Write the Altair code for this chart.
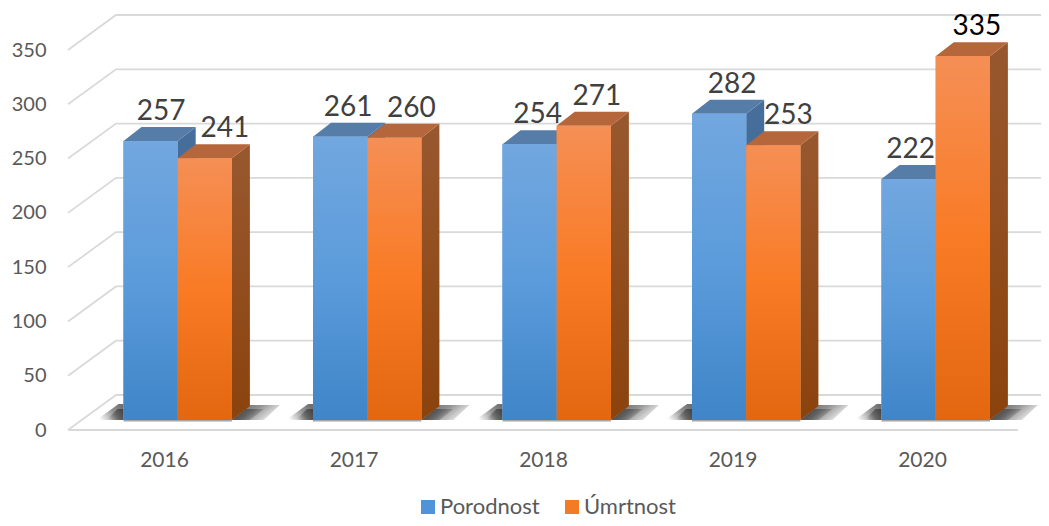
import altair as alt
import pandas as pd

YEARS = [2016, 2017, 2018, 2019, 2020]
POROD = [257, 261, 254, 282, 222]
UMRT = [241, 260, 271, 253, 335]
SERIES = ["Porodnost", "Úmrtnost"]
GRID_LEVELS = [0, 50, 100, 150, 200, 250, 300, 350]

# layout, in page pixels, converted to scale units below
PX_YEAR = 189.5
PX_UNIT = 1.0857
ORIGIN_X, ORIGIN_Y = 164.0, 430.0   # where the axis labels of 2016 and 0 sit
PLOT_L, PLOT_T, PAGE_R, PAGE_B = 52, 8, 1041, 518


def dx(px):
    return px / PX_YEAR


def dy(px):
    return px / PX_UNIT


X_SCALE = alt.Scale(domain=[2016 + (PLOT_L - ORIGIN_X) / PX_YEAR, 2016 + (PAGE_R - ORIGIN_X) / PX_YEAR],
                    nice=False, zero=False, padding=0)
Y_SCALE = alt.Scale(domain=[0, (ORIGIN_Y - PLOT_T) / PX_UNIT], nice=False, zero=False, padding=0)
X_AXIS = alt.Axis(title=None, values=YEARS, format="d", domain=False, ticks=False, grid=False, labelFontSize=21,
                  labelFont="Lato", labelColor="#595959", labelPadding=30, labelBaseline="middle", labelFlush=False)
Y_AXIS = alt.Axis(title=None, values=GRID_LEVELS, domain=False, ticks=False, grid=False, labelFontSize=20,
                  labelFont="Lato", labelColor="#595959", labelPadding=6)

FLOOR = dy(10)           # bars stand this far above the front floor edge
BAR_W = dx(54.2)
BAR_SHIFT = dx(-40.5)    # left edge of the blue bar relative to the year
DEPTH_X, DEPTH_Y = dx(18), dy(14)
WALL_X, WALL_Y = dx(48), dy(35)
LEFT_END = 2016 + (68 - ORIGIN_X) / PX_YEAR
RIGHT_FRONT = 2016 + (1018 - ORIGIN_X) / PX_YEAR
RIGHT_BACK = 2016 + (PAGE_R - ORIGIN_X) / PX_YEAR
LABEL_NUDGE = {0: [10.5, 8, 8, 13, 2], 1: [20, 17, 13, 15, 14]}
LABEL_RISE = dy(29)


def trapezoid(group, xb0, xb1, xt0, xt1, yb, yt):
    """Slices a floor-style four-corner face into area rows."""
    rows = []
    for x in sorted({xb0, xb1, xt0, xt1}):
        if x < xt0:
            up = yb + (yt - yb) * (x - xb0) / (xt0 - xb0)
        elif x > xt1:
            up = yt + (yb - yt) * (x - xt1) / (xb1 - xt1)
        else:
            up = yt
        if x > xb1:
            lo = yb + (yt - yb) * (x - xb1) / (xt1 - xb1)
        elif x < xb0:
            lo = yt
        else:
            lo = yb
        rows.append({"g": group, "x": x, "lo": lo, "up": up})
    return rows


def grad(*colors):
    n = len(colors) - 1
    return alt.LinearGradient(gradient="linear", x1=0, x2=0, y1=0, y2=1,
                              stops=[alt.GradientStop(offset=i / n, color=c) for i, c in enumerate(colors)])


def slant(x1, y1, x2, y2, *stops):
    return alt.LinearGradient(gradient="linear", x1=x1, y1=y1, x2=x2, y2=y2,
                              stops=[alt.GradientStop(offset=o, color=c) for o, c in stops])


def face(rows, fill, opacity=1):
    return alt.Chart(pd.DataFrame(rows)).mark_area(fill=fill, opacity=opacity, interpolate="linear", clip=False).encode(
        x=alt.X("x:Q", scale=X_SCALE, axis=X_AXIS),
        y=alt.Y("up:Q", scale=Y_SCALE, axis=Y_AXIS, stack=None),
        y2="lo:Q",
        detail="g:N",
    )


# ---- walls and floor grid
grid_rows = []
for i, lv in enumerate(GRID_LEVELS):
    grid_rows += [
        {"g": i, "o": 0, "x": LEFT_END, "y": lv},
        {"g": i, "o": 1, "x": LEFT_END + WALL_X, "y": lv + WALL_Y},
        {"g": i, "o": 2, "x": RIGHT_BACK, "y": lv + WALL_Y},
    ]
front_rows = [{"x": LEFT_END, "y": 0}, {"x": RIGHT_FRONT, "y": 0}]

grid = alt.Chart(pd.DataFrame(grid_rows)).mark_line(color="#d9d9d9", strokeWidth=1.8).encode(
    x=alt.X("x:Q", scale=X_SCALE, axis=X_AXIS),
    y=alt.Y("y:Q", scale=Y_SCALE, axis=Y_AXIS),
    detail="g:N",
    order="o:Q",
)
front = alt.Chart(pd.DataFrame(front_rows)).mark_line(color="#d9d9d9", strokeWidth=1.8).encode(
    x=alt.X("x:Q", scale=X_SCALE, axis=X_AXIS), y=alt.Y("y:Q", scale=Y_SCALE, axis=Y_AXIS))

# ---- soft floor shadows
sl_big, sl_small, sr_big, sr_small, under = [], [], [], [], []
for yr in YEARS:
    left = yr + BAR_SHIFT
    right = left + 2 * BAR_W
    sl_big += trapezoid(yr, left - dx(27), left, left - dx(5), left, FLOOR, FLOOR + dy(16))
    sl_small += trapezoid(yr, left - dx(17), left, left - dx(6), left, FLOOR, FLOOR + dy(11))
    sr_big += trapezoid(yr, right, right + dx(32), right + dx(18), right + dx(48), FLOOR, FLOOR + dy(15))
    sr_small += trapezoid(yr, right, right + dx(18), right + dx(14), right + dx(32), FLOOR, FLOOR + dy(11))
    under += trapezoid(yr, left, right, left, right, FLOOR - dy(1.5), FLOOR)

FADE_L = slant(0, 0.7, 1, 0.3, (0, "rgba(70,70,70,0)"), (0.6, "rgba(60,60,60,0.55)"), (1, "rgba(50,50,50,0.7)"))
FADE_R = slant(0, 0.3, 1, 0.7, (0, "rgba(50,50,50,0.75)"), (0.45, "rgba(60,60,60,0.55)"), (1, "rgba(80,80,80,0)"))

layers = [grid, front,
          face(sl_big, FADE_L), face(sl_small, FADE_L),
          face(sr_big, FADE_R), face(sr_small, FADE_R),
          face(under, "#7f7f7f", 0.7)]

# ---- bars
rows = []
for s, vals in enumerate([POROD, UMRT]):
    for i, (yr, v) in enumerate(zip(YEARS, vals)):
        x0 = yr + BAR_SHIFT + s * BAR_W
        rows.append({"series": SERIES[s], "s": s, "year": yr, "v": v, "x0": x0, "x1": x0 + BAR_W,
                     "top": v + FLOOR, "bot": FLOOR,
                     "lx": x0 + BAR_W / 2 + dx(LABEL_NUDGE[s][i]), "ly": v + FLOOR + LABEL_RISE,
                     "ink": "#000000" if v == max(UMRT) else "#404040"})
bars = pd.DataFrame(rows)

FRONT = [grad("#72A7DF", "#5B9BDB", "#3F85C8"), grad("#F58F55", "#F97B25", "#E2670F")]
TOPS = ["#567CA8", "#B5663A"]
SIDES = [grad("#486F9B", "#2F5F95"), grad("#98582F", "#8B430D")]

# solid underlay carries the legend
legend_bars = alt.Chart(bars).mark_bar().encode(
    x=alt.X("x0:Q", scale=X_SCALE, axis=X_AXIS), x2="x1:Q",
    y=alt.Y("top:Q", scale=Y_SCALE, axis=Y_AXIS, stack=None), y2="bot:Q",
    color=alt.Color("series:N", scale=alt.Scale(domain=SERIES, range=["#4F94D8", "#F47B25"]), legend=alt.Legend(
        title=None, orient="none", legendX=365, legendY=488, direction="horizontal", columns=2,
        symbolType="square", symbolSize=196, symbolStrokeWidth=0, symbolOpacity=1,
        labelFont="Lato", labelFontSize=22, labelColor="#595959", labelOffset=1, columnPadding=21,
        padding=0)),
)

for s in [0, 1]:
    sub = bars[bars.s == s]
    top_rows, side_rows = [], []
    for r in sub.itertuples():
        top_rows += trapezoid(r.year, r.x0, r.x1, r.x0 + DEPTH_X, r.x1 + DEPTH_X, r.top, r.top + DEPTH_Y)
        side_rows += [
            {"g": r.year, "x": r.x1, "lo": r.bot, "up": r.top},
            {"g": r.year, "x": r.x1 + DEPTH_X, "lo": r.bot + DEPTH_Y, "up": r.top + DEPTH_Y},
        ]
    layers.append(face(side_rows, SIDES[s]))
    layers.append(face(top_rows, TOPS[s]))
    if s == 0:
        layers.append(legend_bars)
    layers.append(alt.Chart(sub).mark_bar(fill=FRONT[s], stroke=None).encode(
        x=alt.X("x0:Q", scale=X_SCALE, axis=X_AXIS), x2="x1:Q",
        y=alt.Y("top:Q", scale=Y_SCALE, axis=Y_AXIS, stack=None), y2="bot:Q"))

labels = alt.Chart(bars).mark_text(font="Lato", fontSize=28, baseline="middle", align="center").encode(
    x=alt.X("lx:Q", scale=X_SCALE, axis=X_AXIS),
    y=alt.Y("ly:Q", scale=Y_SCALE, axis=Y_AXIS),
    text=alt.Text("v:Q"),
    color=alt.Color("ink:N", scale=None, legend=None),
)
layers.append(labels)

chart = alt.layer(*layers).properties(
    width=PAGE_R - PLOT_L,
    height=int(ORIGIN_Y - PLOT_T),
    autosize=alt.AutoSizeParams(type="none"),
    padding={"left": PLOT_L - 8, "top": 0, "right": 0, "bottom": PAGE_B - int(ORIGIN_Y)},
    background="#ffffff",
).configure_view(stroke=None)

chart.save("out.html", embed_options={"renderer": "svg", "actions": False})
